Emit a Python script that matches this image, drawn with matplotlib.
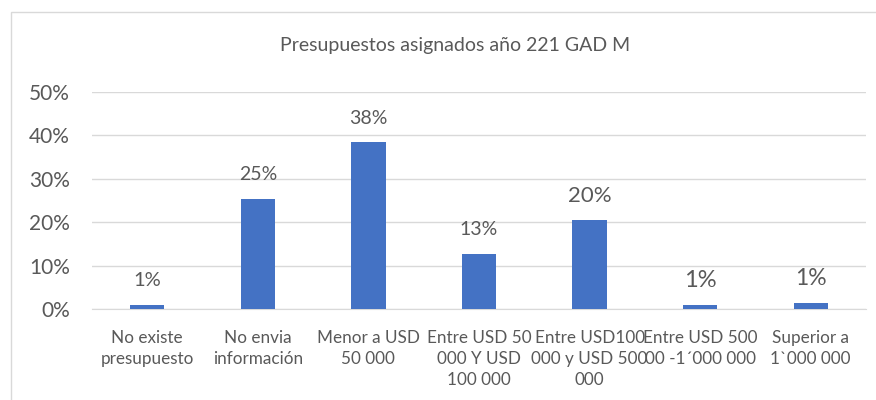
import matplotlib.pyplot as plt
from matplotlib.patches import Rectangle

categorias = ["No existe\npresupuesto", "No envia\ninformación", "Menor a USD\n50 000",
              "Entre USD 50\n000 Y USD\n100 000", "Entre USD100\n000 y USD 500\n000",
              "Entre USD 500\n00 -1´000 000", "Superior a\n1`000 000"]
valores = [0.9, 25.3, 38.4, 12.7, 20.5, 0.9, 1.4]
etiquetas = ["1%", "25%", "38%", "13%", "20%", "1%", "1%"]
tam_etiquetas = [14.5, 14, 14, 14, 16, 17, 16.5]
ticks = [0, 10, 20, 30, 40, 50]

plt.rcParams['font.family'] = ['Lato', 'DejaVu Sans']
gris = "#595959"

fig = plt.figure(figsize=(8.76, 4.0), dpi=100)
fig.patches.append(Rectangle((11 / 876, -0.1), 1.1, (400 - 12) / 400 + 0.1,
                             transform=fig.transFigure, fill=False,
                             edgecolor="#d9d9d9", linewidth=1))
ax = fig.add_axes([92 / 876, (400 - 309) / 400, (866 - 92) / 876, (309 - 92) / 400])

x = list(range(len(categorias)))
ax.bar(x, valores, width=0.31, color="#4472c4", zorder=3)
for xi, v, t, s in zip(x, valores, etiquetas, tam_etiquetas):
    ax.annotate(t, (xi, v), xytext=(0, 17.5), textcoords="offset points",
                ha="center", va="center", fontsize=s, color=gris)

ax.set_xlim(-0.5, len(categorias) - 0.5)
ax.set_ylim(0, 50)
ax.set_yticks(ticks)
ax.set_yticklabels([f"{t}%" for t in ticks], fontsize=15, color=gris)
ax.set_xticks(x)
ax.set_xticklabels(categorias, fontsize=12.3, color=gris, linespacing=1.38)
ax.tick_params(length=0, axis="y", pad=16)
ax.tick_params(length=0, axis="x", pad=15)
ax.grid(axis="y", color="#d9d9d9", linewidth=1, zorder=0)
for s in ["top", "right", "left"]:
    ax.spines[s].set_visible(False)
ax.spines["bottom"].set_color("#d9d9d9")

fig.text(455 / 876, (400 - 45) / 400, "Presupuestos asignados año 221 GAD M",
         ha="center", va="center", fontsize=14, color=gris)

fig.savefig("out.png", dpi=100)
